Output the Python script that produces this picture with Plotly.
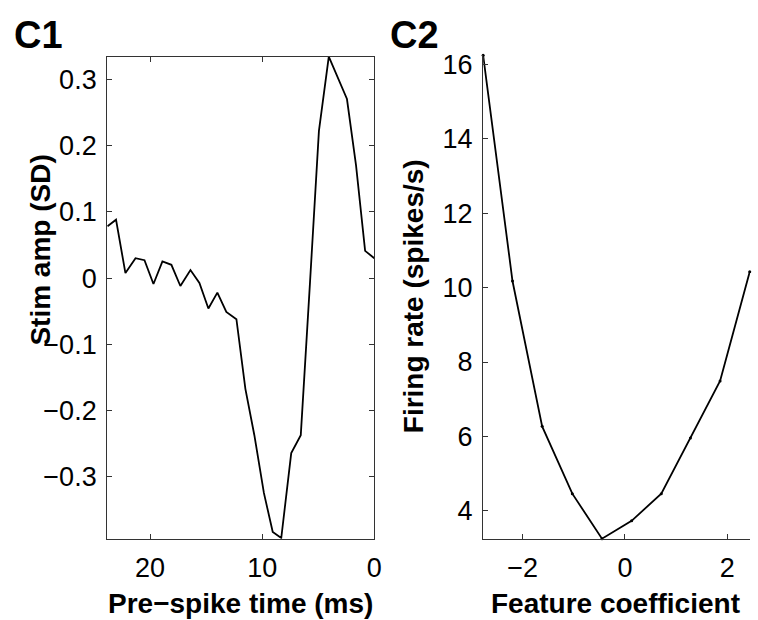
import plotly.graph_objects as go

# C1 data: spike-triggered average
pre_spike_time = [23.8, 23.04, 22.2, 21.3, 20.5, 19.7, 18.9, 18.1, 17.3, 16.4,
                  15.6, 14.8, 14.0, 13.2, 12.3, 11.5, 10.7, 9.85, 9.06, 8.3,
                  7.41, 6.56, 5.73, 4.94, 4.06, 3.25, 2.44, 1.63, 0.82, 0.0]
stim_amp = [0.078, 0.088, 0.0075, 0.030, 0.027, -0.009, 0.025, 0.020, -0.012, 0.012,
            -0.0075, -0.046, -0.022, -0.051, -0.062, -0.167, -0.237, -0.324, -0.383, -0.392,
            -0.264, -0.237, -0.005, 0.222, 0.334, 0.302, 0.270, 0.17, 0.041, 0.030]

# C2 data: nonlinearity
feature_coef = [-2.774, -2.2, -1.62, -1.03, -0.45, 0.13, 0.71, 1.28, 1.86, 2.44]
firing_rate = [16.25, 10.18, 6.27, 4.46, 3.25, 3.73, 4.46, 5.96, 7.49, 10.43]

c1_yticks = [-0.3, -0.2, -0.1, 0, 0.1, 0.2, 0.3]
c1_yticklabels = ["\u22120.3", "\u22120.2", "\u22120.1", "0", "0.1", "0.2", "0.3"]
c1_xticks = [20, 10, 0]
c2_xticks = [-2, 0, 2]
c2_xticklabels = ["\u22122", "0", "2"]
c2_yticks = [4, 6, 8, 10, 12, 14, 16]

W, H = 758, 620
FONT = "Liberation Sans, Arial, sans-serif"

fig = go.Figure()
fig.add_trace(go.Scatter(x=pre_spike_time, y=stim_amp, mode="lines",
                         line=dict(color="black", width=1.8),
                         xaxis="x", yaxis="y", showlegend=False))
fig.add_trace(go.Scatter(x=feature_coef, y=firing_rate, mode="lines+markers",
                         line=dict(color="black", width=1.8),
                         marker=dict(color="black", size=3),
                         xaxis="x2", yaxis="y2", showlegend=False, cliponaxis=False))

def px_x(p):
    return p / W

def px_y(p):
    return 1 - p / H

axis_common = dict(showgrid=False, zeroline=False, showline=True, linecolor="#333",
                   linewidth=1.2, ticks="inside", ticklen=5, tickcolor="#333",
                   tickwidth=1, tickfont=dict(family=FONT, size=27, color="black"))

fig.update_layout(
    width=W, height=H, margin=dict(l=0, r=0, t=0, b=0),
    paper_bgcolor="white", plot_bgcolor="white",
    xaxis=dict(domain=[px_x(108.3), px_x(378.3)], range=[23.83, 0], anchor="y",
               tickvals=c1_xticks, mirror="ticks", ticklabelstandoff=5, **axis_common),
    yaxis=dict(domain=[px_y(538), px_y(52)], range=[-0.393, 0.334], anchor="x",
               tickvals=c1_yticks, ticktext=c1_yticklabels, mirror="ticks",
               ticklabelstandoff=4, **axis_common),
    xaxis2=dict(domain=[px_x(488.3), 1.0], range=[-2.774, 2.445], anchor="y2",
                tickvals=c2_xticks, ticktext=c2_xticklabels, ticklabelstandoff=5,
                **axis_common),
    yaxis2=dict(domain=[px_y(538), px_y(50.7)], range=[3.25, 16.25], anchor="x2",
                tickvals=c2_yticks, ticklabelstandoff=4, **axis_common),
)

def ann(text, x, y, size, angle=0, xanchor="center", yanchor="middle"):
    fig.add_annotation(text=text, x=px_x(x), y=px_y(y), xref="paper", yref="paper",
                       showarrow=False, textangle=angle, xanchor=xanchor, yanchor=yanchor,
                       font=dict(family=FONT, size=size, color="black"))

ann("<b>C1</b>", 12, 30, 38, xanchor="left")
ann("<b>C2</b>", 392, 30, 38, xanchor="left")
ann("<b>Stim amp (SD)</b>", 40, 247, 28, angle=-90)
ann("<b>Firing rate (spikes/s)</b>", 418, 294, 28, angle=-90)
ann("<b>Pre\u2212spike time (ms)</b>", 243, 603, 28)
ann("<b>Feature coefficient</b>", 622, 603, 28)

fig.write_html("out.html")
